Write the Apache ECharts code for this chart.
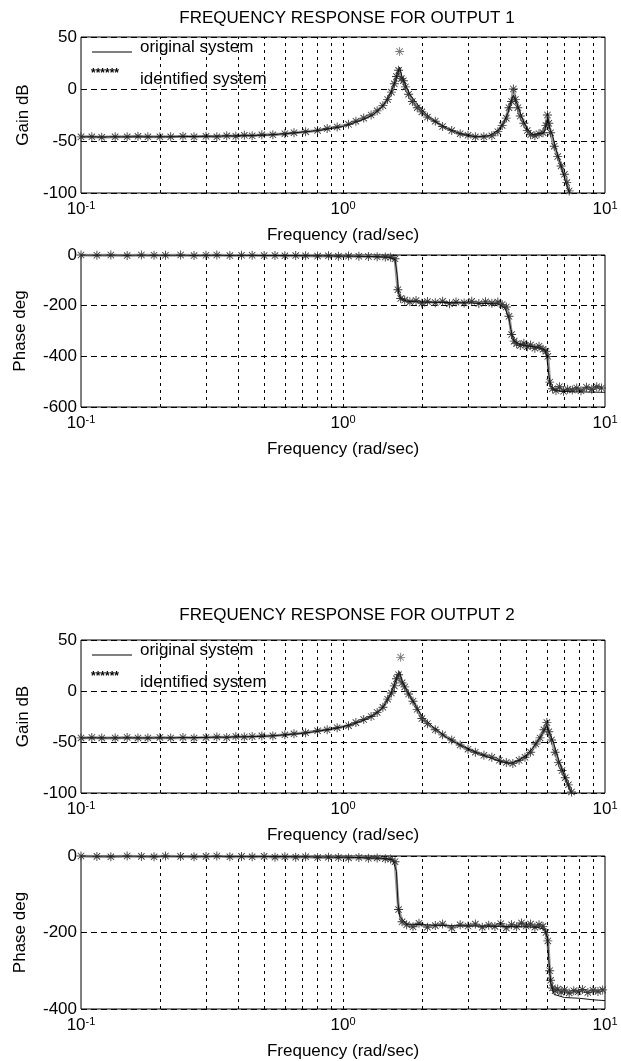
<!DOCTYPE html>
<html><head><meta charset="utf-8">
<script src="https://cdn.jsdelivr.net/npm/echarts@6/dist/echarts.min.js"></script>
<style>html,body{margin:0;padding:0;background:#fff}#c{width:621px;height:1061px}</style>
</head><body><div id="c"></div>
<script>
// ---------- texts ----------
const titles = ['FREQUENCY RESPONSE FOR OUTPUT 1', 'FREQUENCY RESPONSE FOR OUTPUT 2'];
const legendNames = ['original system', 'identified system'];
const xName = 'Frequency (rad/sec)';
const yNames = ['Gain dB', 'Phase deg', 'Gain dB', 'Phase deg'];
// ---------- ticks ----------
const xMin = 0.1, xMax = 10;
const minorGridFreq = [0.2,0.3,0.4,0.5,0.6,0.7,0.8,0.9,1,2,3,4,5,6,7,8,9];
const gainTicks = [-100, -50, 0, 50];
const phase1Ticks = [-600, -400, -200, 0];
const phase2Ticks = [-400, -200, 0];

// ---------- output 1 gain ----------
const g1Freq = [0.1,0.2,0.3,0.4,0.5,0.6,0.7,0.8,0.9,1.0,1.1,1.2,1.3,1.4,1.46,1.52,1.57,1.61,1.645,1.68,1.73,1.8,1.9,2.0,2.2,2.5,2.8,3.2,3.6,3.9,4.1,4.25,4.38,4.47,4.58,4.7,4.9,5.1,5.3,5.6,5.85,6.0,6.05,6.15,6.3,6.5,6.8,7.05,7.3,7.4];
const g1Orig = [-46,-46,-45.5,-45,-44.5,-43,-41.5,-40,-38,-36,-32.5,-29,-25,-18,-12,-4,5,14,21,12,4,-5,-13,-20,-30,-38,-43,-46,-45,-40,-33,-24,-12,-6,-12,-20,-32,-40,-44,-43,-42,-32,-27,-38,-44,-58,-74,-88,-99,-104];
const g1IdFreq = [0.1,0.11,0.12,0.135,0.15,0.165,0.18,0.2,0.22,0.245,0.27,0.3,0.33,0.36,0.39,0.42,0.45,0.49,0.54,0.6,0.65,0.72,0.8,0.87,0.95,1.05,1.12,1.2,1.28,1.35,1.42,1.48,1.53,1.57,1.6,1.63,1.67,1.7,1.73,1.78,1.84,1.92,2.0,2.1,2.25,2.4,2.6,2.8,3.0,3.2,3.45,3.7,3.9,4.05,4.2,4.3,4.4,4.47,4.55,4.65,4.75,4.9,5.05,5.2,5.4,5.6,5.8,5.95,6.03,6.1,6.2,6.4,6.6,6.8,7.0,7.15,7.3];
const g1Id = [-46,-46,-46.5,-46,-46,-45.5,-46,-46,-46,-45.5,-46,-45.5,-46,-45,-45.5,-44.5,-45,-44,-44,-43,-42,-41,-40,-38,-36.5,-34,-31,-28,-25,-21,-16,-10,-3,5,12,18,10,8,2,-5,-12,-18,-22,-27,-31,-36,-40,-43,-44.5,-46,-46,-45,-41,-35,-28,-18,-12,0,-10,-18,-26,-33,-40,-44,-45,-43,-42,-35,-25,-33,-42,-55,-65,-74,-82,-90,-98];
const g1OutFreq = [1.645];
const g1Out = [36];

// ---------- output 1 phase ----------
const p1Freq = [0.1,0.3,0.6,1.0,1.3,1.5,1.58,1.61,1.63,1.66,1.75,2.0,3.0,3.9,4.15,4.3,4.4,4.5,4.7,5.0,5.5,5.9,6.0,6.1,6.2,6.35,6.6,7.5,10];
const p1Orig = [0,-1,-2,-4,-6,-9,-18,-80,-150,-172,-182,-186,-189,-193,-210,-250,-310,-340,-352,-358,-364,-375,-400,-470,-515,-530,-537,-540,-542];
const p1IdFreq = [0.1,0.115,0.13,0.15,0.17,0.19,0.21,0.24,0.27,0.3,0.33,0.37,0.41,0.45,0.5,0.55,0.6,0.66,0.72,0.8,0.88,0.96,1.05,1.15,1.25,1.35,1.45,1.52,1.58,1.62,1.66,1.72,1.8,1.9,2.0,2.1,2.25,2.4,2.55,2.7,2.9,3.1,3.3,3.5,3.7,3.9,4.05,4.2,4.3,4.4,4.5,4.6,4.75,4.9,5.05,5.2,5.4,5.6,5.8,5.95,6.05,6.15,6.3,6.5,6.7,6.95,7.2,7.5,7.8,8.1,8.5,8.9,9.3,9.7];
const p1Id = [0,-1,0,-2,0,-1,-1,0,-2,-1,0,-2,-1,-1,-2,-2,-3,-2,-3,-4,-3,-5,-4,-5,-6,-7,-8,-9,-15,-137,-172,-178,-185,-180,-190,-184,-188,-183,-192,-186,-189,-183,-191,-185,-190,-186,-195,-205,-242,-314,-340,-350,-357,-348,-362,-355,-368,-360,-372,-380,-400,-502,-528,-535,-520,-538,-530,-533,-525,-536,-522,-530,-520,-525];

// ---------- output 2 gain ----------
const g2Freq = [0.1,0.2,0.3,0.4,0.5,0.6,0.7,0.8,0.9,1.0,1.1,1.2,1.3,1.4,1.46,1.52,1.57,1.61,1.645,1.68,1.73,1.8,1.9,2.0,2.2,2.5,2.8,3.2,3.6,4.0,4.35,4.7,5.0,5.3,5.6,5.85,6.0,6.15,6.35,6.7,7.05,7.45,7.6];
const g2Orig = [-46,-46,-45.5,-45,-44.5,-43,-41.5,-39.5,-37.5,-35,-32,-28.5,-24,-18,-11,-3,6,14,19,10,3,-5,-15,-25,-35,-46,-53,-60,-65,-69,-71,-68,-63,-56,-47,-39,-33,-42,-50,-70,-85,-100,-106];
const g2IdFreq = [0.1,0.11,0.12,0.135,0.15,0.165,0.18,0.2,0.22,0.245,0.27,0.3,0.33,0.36,0.39,0.42,0.45,0.49,0.54,0.6,0.65,0.72,0.8,0.87,0.95,1.05,1.12,1.2,1.28,1.35,1.42,1.48,1.53,1.57,1.6,1.63,1.68,1.72,1.78,1.85,1.92,2.0,2.1,2.25,2.4,2.6,2.8,3.0,3.2,3.45,3.7,3.95,4.2,4.45,4.7,4.95,5.2,5.45,5.65,5.85,6.0,6.1,6.25,6.45,6.65,6.85,7.05,7.25,7.45];
const g2Id = [-46,-45.5,-46,-46,-45.5,-46,-46,-45.5,-46,-45.5,-46,-45.5,-45,-45.5,-44.5,-45,-44.5,-44,-44,-43,-42,-41,-39,-38,-36,-34,-31,-28,-25,-21,-16,-8,-2,5,12,16,8,4,-3,-10,-18,-27,-32,-38,-43,-48,-53,-57,-60,-63,-65,-68,-70,-71,-68,-65,-60,-52,-46,-38,-31,-40,-48,-60,-70,-78,-85,-92,-99];
const g2OutFreq = [1.66];
const g2Out = [33];

// ---------- output 2 phase ----------
const p2Freq = [0.1,0.5,1.0,1.4,1.55,1.6,1.62,1.65,1.75,2.5,4.0,5.5,5.9,6.03,6.1,6.2,6.4,7.0,8.0,9.0,10];
const p2Orig = [0,-1,-3,-6,-10,-40,-120,-160,-178,-182,-184,-186,-192,-215,-270,-330,-362,-370,-372,-376,-378];
const p2IdFreq = [0.1,0.115,0.13,0.15,0.17,0.19,0.21,0.24,0.27,0.3,0.33,0.37,0.41,0.45,0.5,0.55,0.6,0.66,0.72,0.8,0.88,0.96,1.05,1.15,1.25,1.35,1.45,1.52,1.58,1.63,1.68,1.75,1.85,1.95,2.1,2.25,2.4,2.6,2.8,3.0,3.2,3.4,3.6,3.8,4.0,4.2,4.4,4.6,4.8,5.0,5.2,5.4,5.6,5.8,5.95,6.05,6.15,6.2,6.3,6.45,6.6,6.8,7.0,7.3,7.6,7.9,8.2,8.6,9.0,9.4,9.8];
const p2Id = [0,-1,-2,0,-1,-2,0,-1,-2,-1,0,-2,-1,-2,-1,-3,-2,-3,-2,-4,-3,-4,-5,-4,-6,-5,-7,-8,-15,-140,-172,-180,-185,-176,-186,-182,-178,-188,-180,-183,-178,-186,-181,-184,-177,-188,-180,-185,-175,-183,-178,-186,-180,-184,-200,-222,-300,-325,-345,-352,-348,-356,-350,-358,-352,-355,-349,-357,-351,-354,-350];

// ---------- build ----------
const ink = '#000';
const font = 'Liberation Sans, Arial, sans-serif';
const gridTops = [37, 255, 640, 856];
const gridHeights = [156, 152, 153, 154];
const yRanges = [gainTicks, phase1Ticks, gainTicks, phase2Ticks];

function zip(a, b) { return a.map((v, i) => [v, b[i]]); }
const starPath = 'path://M9 0L11 0L11 20L9 20Z M0 9L20 9L20 11L0 11Z M2.2 3.6L3.6 2.2L17.8 16.4L16.4 17.8Z M16.4 2.2L17.8 3.6L3.6 17.8L2.2 16.4Z';

const grids = gridTops.map((t, i) => ({ left: 81, right: 16, top: t, height: gridHeights[i], show: true, borderColor: ink, borderWidth: 1, backgroundColor: '#fff' }));

const xAxes = gridTops.map((t, i) => ({
  type: 'log', logBase: 10, min: xMin, max: xMax, gridIndex: i,
  name: xName, nameLocation: 'middle', nameGap: 34,
  nameTextStyle: { color: ink, fontSize: 17, fontFamily: font },
  axisLine: { show: false }, axisTick: { show: false }, splitLine: { show: false },
  axisLabel: {
    margin: 7, color: ink, fontFamily: font,
    formatter: v => '{b|10}{s|' + Math.round(Math.log10(v)) + '}',
    rich: { b: { fontSize: 17, fontFamily: font, color: ink }, s: { fontSize: 11, fontFamily: font, color: ink, verticalAlign: 'top', padding: [0, 0, 8, 0] } }
  }
}));

const yAxes = yRanges.map((ticks, i) => ({
  type: 'value', gridIndex: i, min: ticks[0], max: ticks[ticks.length - 1],
  interval: ticks[1] - ticks[0],
  name: yNames[i], nameLocation: 'middle', nameGap: i % 2 === 0 ? 46 : 52,
  nameTextStyle: { color: ink, fontSize: 17, fontFamily: font },
  axisLine: { show: false }, axisTick: { show: false },
  axisLabel: { color: ink, fontSize: 17, fontFamily: font, margin: 4 },
  splitLine: { show: true, lineStyle: { color: ink, type: [6, 4], width: 1 } }
}));

const gridLines = minorGridFreq.map(f => ({ xAxis: f }));
const plots = [
  { orig: zip(g1Freq, g1Orig), id: zip(g1IdFreq, g1Id), out: zip(g1OutFreq, g1Out) },
  { orig: zip(p1Freq, p1Orig), id: zip(p1IdFreq, p1Id), out: [] },
  { orig: zip(g2Freq, g2Orig), id: zip(g2IdFreq, g2Id), out: zip(g2OutFreq, g2Out) },
  { orig: zip(p2Freq, p2Orig), id: zip(p2IdFreq, p2Id), out: [] }
];
const series = [];
plots.forEach((p, i) => {
  series.push({
    name: legendNames[1], type: 'line', xAxisIndex: i, yAxisIndex: i, data: p.id,
    symbol: starPath, symbolSize: 9, showSymbol: true, animation: false,
    itemStyle: { color: '#3a3a3a' },
    lineStyle: { color: '#9a9a9a', width: 3 }, z: 3,
    markLine: { silent: true, symbol: 'none', label: { show: false }, animation: false,
      lineStyle: { color: ink, type: [3, 4], width: 1 }, data: gridLines }
  });
  series.push({
    name: legendNames[0], type: 'line', xAxisIndex: i, yAxisIndex: i, data: p.orig,
    symbol: 'none', animation: false, lineStyle: { color: '#111', width: 1 }, z: 4
  });
  if (p.out.length) series.push({
    name: legendNames[1], type: 'scatter', xAxisIndex: i, yAxisIndex: i, data: p.out,
    symbol: starPath, symbolSize: 9, itemStyle: { color: '#555' }, animation: false, z: 4
  });
});

const graphic = [];
[gridTops[0], gridTops[2]].forEach(t => {
  graphic.push({ type: 'line', shape: { x1: 92, y1: t + 15, x2: 132, y2: t + 15 }, style: { stroke: ink, lineWidth: 1 }, z: 10 });
  graphic.push({ type: 'text', x: 140, y: t + 10, style: { text: legendNames[0], font: '17px ' + font, fill: ink, verticalAlign: 'middle' }, z: 10 });
  graphic.push({ type: 'text', x: 91, y: t + 37, style: { text: '******', font: 'bold 12px ' + font, fill: ink, verticalAlign: 'middle' }, z: 10 });
  graphic.push({ type: 'text', x: 140, y: t + 42, style: { text: legendNames[1], font: '17px ' + font, fill: ink, verticalAlign: 'middle' }, z: 10 });
});

const chart = echarts.init(document.getElementById('c'), null, { renderer: 'canvas' });
chart.setOption({
  backgroundColor: '#fff', animation: false,
  title: titles.map((t, i) => ({ text: t, left: 342, top: i === 0 ? 5 : 602, textAlign: 'center',
    textStyle: { color: ink, fontSize: 17, fontWeight: 'normal', fontFamily: font } })),
  grid: grids, xAxis: xAxes, yAxis: yAxes, series, graphic
});
</script></body></html>
